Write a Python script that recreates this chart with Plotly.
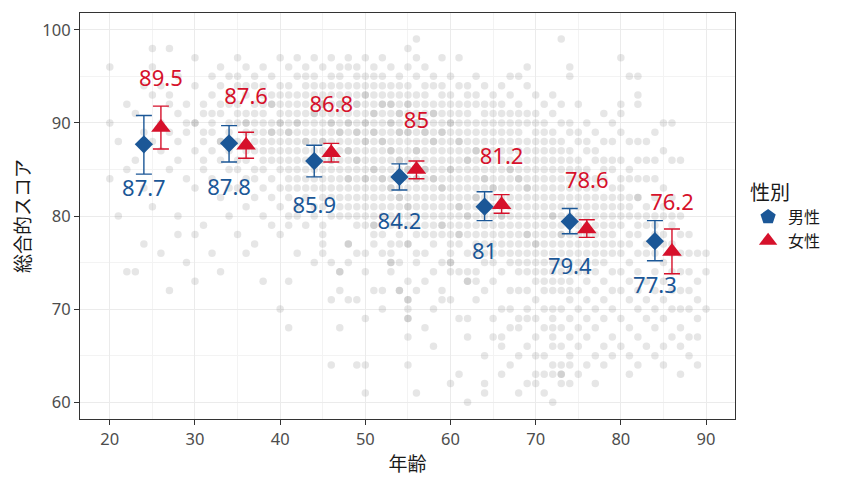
import plotly.graph_objects as go

# ---- summary data (decade groups) ----
group_mid = [25, 35, 45, 55, 65, 75, 85]
male_mean = [87.7, 87.8, 85.9, 84.2, 81.0, 79.4, 77.3]
male_lo = [84.5, 85.8, 84.2, 82.8, 79.5, 78.1, 75.2]
male_hi = [90.8, 89.7, 87.6, 85.6, 82.6, 80.8, 79.5]
female_mean = [89.5, 87.6, 86.8, 85.0, 81.2, 78.6, 76.2]
female_lo = [87.2, 86.2, 85.8, 84.0, 80.3, 77.7, 73.8]
female_hi = [91.8, 89.0, 87.8, 85.9, 82.3, 79.6, 78.6]
male_label = ["87.7", "87.8", "85.9", "84.2", "81", "79.4", "77.3"]
female_label = ["89.5", "87.6", "86.8", "85", "81.2", "78.6", "76.2"]

# ---- individual observations (age -> scores), read approximately ----
obs_ages = list(range(20, 91))
obs_scores = [
    [96, 90, 84],
    [88, 80],
    [92, 85, 74],
    [91, 86, 74],
    [94, 89, 83, 77],
    [98, 96, 93, 88, 81],
    [94, 90, 87, 76],
    [98, 93, 92, 89, 85, 72],
    [95, 91, 88, 86, 80, 78],
    [92, 90, 89, 84, 75],
    [97, 94, 90, 90, 87, 83, 78, 73],
    [92, 91, 89, 88, 86, 85, 79],
    [95, 93, 91, 90, 89, 87, 84, 76],
    [96, 94, 92, 91, 88, 88, 86, 82, 74],
    [95, 93, 92, 90, 89, 87, 85, 83, 80],
    [97, 95, 94, 92, 91, 90, 88, 86, 85, 83, 78],
    [96, 94, 93, 91, 90, 90, 89, 87, 86, 84, 81, 76],
    [95, 94, 92, 91, 90, 89, 88, 87, 85, 84, 82, 77],
    [96, 94, 93, 92, 91, 90, 89, 88, 87, 86, 85, 83, 80, 73],
    [95, 93, 92, 92, 90, 89, 89, 88, 87, 86, 84, 82, 79],
    [97, 94, 93, 92, 91, 90, 90, 89, 88, 87, 86, 85, 83, 81, 78, 70],
    [96, 94, 93, 92, 91, 90, 89, 89, 88, 87, 86, 85, 84, 83, 82, 80, 79, 73, 68],
    [97, 95, 93, 92, 91, 90, 90, 89, 88, 87, 86, 85, 84, 83, 81, 80, 76],
    [96, 95, 94, 93, 92, 91, 90, 89, 88, 88, 87, 86, 85, 84, 83, 82, 79],
    [97, 95, 94, 93, 92, 91, 91, 90, 89, 88, 87, 86, 85, 84, 83, 81, 80, 75],
    [96, 94, 93, 92, 92, 91, 90, 89, 88, 88, 87, 86, 85, 84, 83, 82, 81, 79, 78, 77, 76],
    [97, 95, 94, 93, 92, 91, 90, 90, 89, 88, 87, 86, 86, 85, 84, 83, 82, 80, 75, 71, 64],
    [96, 95, 94, 93, 92, 92, 91, 90, 89, 89, 88, 87, 86, 85, 84, 83, 82, 81, 80, 74, 74, 72, 68],
    [97, 96, 94, 93, 92, 91, 90, 90, 89, 88, 87, 87, 86, 85, 84, 84, 83, 82, 81, 80, 77, 77, 75, 71],
    [96, 95, 94, 93, 92, 92, 91, 90, 89, 89, 88, 87, 86, 86, 85, 84, 83, 82, 81, 80, 79, 76, 71, 64],
    [97, 95, 94, 93, 93, 92, 91, 90, 90, 89, 88, 88, 87, 86, 85, 84, 84, 83, 82, 81, 80, 79, 76, 74, 69, 64, 61],
    [96, 95, 94, 93, 92, 91, 91, 90, 89, 89, 88, 87, 86, 85, 85, 84, 83, 82, 81, 80, 79, 79, 78, 77, 72],
    [97, 95, 94, 93, 92, 92, 91, 90, 89, 88, 88, 87, 86, 85, 84, 84, 83, 82, 81, 80, 78, 76, 72, 70],
    [96, 94, 93, 92, 92, 91, 90, 90, 89, 88, 87, 87, 86, 85, 84, 83, 83, 82, 81, 80, 79, 77, 76, 75, 75, 74],
    [95, 94, 93, 92, 91, 91, 90, 89, 89, 88, 87, 86, 86, 85, 84, 83, 82, 82, 81, 80, 79, 78, 77, 75, 72, 72],
    [98, 96, 94, 93, 92, 92, 91, 90, 89, 89, 88, 87, 86, 85, 85, 84, 83, 82, 81, 81, 80, 79, 77, 77, 73, 71, 71, 70, 69, 69, 67, 64],
    [99, 97, 95, 93, 92, 91, 90, 90, 89, 88, 87, 87, 86, 85, 84, 84, 83, 82, 81, 80, 79, 78, 76, 75, 72, 61],
    [96, 94, 93, 92, 91, 90, 89, 89, 88, 87, 86, 85, 85, 84, 83, 82, 81, 80, 79, 78, 76, 73, 68],
    [95, 94, 92, 91, 91, 90, 89, 88, 88, 87, 86, 85, 84, 84, 83, 82, 81, 80, 79, 78, 77, 74, 70, 66],
    [97, 94, 93, 92, 91, 90, 89, 89, 88, 87, 86, 85, 84, 83, 83, 82, 81, 80, 79, 79, 78, 75, 72, 71],
    [95, 93, 92, 91, 90, 90, 89, 88, 87, 86, 85, 85, 84, 83, 82, 81, 80, 79, 78, 77, 76, 75, 75, 74, 71, 62],
    [97, 94, 92, 91, 90, 89, 88, 88, 87, 86, 85, 84, 83, 82, 81, 81, 80, 79, 78, 78, 77, 74, 69, 63],
    [94, 93, 92, 91, 90, 89, 88, 87, 86, 86, 85, 84, 83, 82, 81, 80, 80, 79, 78, 76, 74, 73, 73, 69, 67, 60],
    [95, 93, 92, 90, 89, 88, 87, 87, 86, 85, 84, 83, 82, 82, 81, 80, 79, 78, 77, 76, 74, 73, 71],
    [94, 92, 91, 90, 89, 88, 87, 86, 85, 84, 84, 83, 82, 81, 80, 79, 78, 77, 76, 75, 72, 65, 62, 61],
    [93, 92, 91, 90, 89, 88, 87, 86, 85, 84, 83, 83, 82, 81, 80, 79, 78, 77, 76, 75, 73, 69, 67],
    [94, 92, 91, 90, 89, 88, 87, 86, 85, 84, 83, 82, 81, 80, 80, 79, 78, 77, 76, 74, 70, 67, 66, 63],
    [95, 93, 91, 90, 89, 88, 87, 86, 85, 85, 84, 83, 82, 81, 80, 79, 78, 77, 76, 75, 72, 70, 68, 64],
    [95, 92, 91, 90, 89, 88, 87, 86, 85, 84, 84, 83, 82, 81, 80, 79, 78, 77, 76, 75, 74, 72, 69, 68, 65, 61],
    [96, 94, 91, 90, 88, 87, 86, 85, 84, 83, 83, 82, 81, 80, 79, 78, 78, 77, 76, 75, 74, 72, 70, 69, 66, 62],
    [93, 91, 90, 89, 88, 87, 86, 85, 84, 83, 82, 81, 80, 79, 78, 77, 77, 76, 75, 74, 73, 71, 69, 67, 65, 63, 62],
    [92, 90, 89, 88, 87, 86, 85, 84, 83, 82, 81, 80, 79, 78, 77, 76, 75, 74, 73, 72, 70, 68, 65, 63, 61],
    [93, 91, 89, 88, 87, 86, 85, 84, 83, 82, 81, 80, 80, 79, 78, 77, 76, 75, 74, 73, 72, 70, 69, 68, 67, 66, 64, 63, 60],
    [99, 92, 90, 88, 87, 86, 85, 84, 83, 82, 81, 80, 79, 78, 78, 77, 76, 75, 74, 73, 72, 70, 68, 66, 64, 63, 63, 62],
    [96, 95, 90, 89, 87, 86, 85, 84, 83, 82, 81, 80, 79, 79, 78, 77, 76, 75, 74, 73, 72, 71, 69, 67, 65, 64, 62],
    [92, 89, 88, 86, 85, 84, 83, 82, 81, 80, 79, 78, 77, 76, 75, 74, 72, 70, 68, 66, 63],
    [90, 88, 87, 85, 84, 83, 82, 81, 80, 79, 78, 77, 76, 75, 74, 73, 71, 69, 67, 64],
    [89, 87, 86, 84, 83, 82, 81, 80, 79, 78, 77, 76, 75, 74, 72, 70, 68, 65, 62],
    [91, 88, 86, 85, 84, 82, 81, 80, 79, 78, 77, 76, 75, 73, 71, 69, 66, 64],
    [90, 88, 86, 85, 83, 82, 81, 80, 79, 78, 77, 76, 74, 72, 70, 67, 65],
    [97, 92, 91, 89, 86, 84, 83, 82, 81, 80, 79, 77, 76, 74, 72, 69, 66],
    [95, 88, 85, 84, 82, 81, 80, 78, 77, 75, 73, 71, 68, 65, 63],
    [95, 93, 92, 88, 86, 84, 82, 82, 80, 79, 78, 76, 74, 72, 70, 67, 64],
    [88, 86, 84, 81, 80, 79, 77, 76, 73, 71, 69, 66],
    [89, 86, 84, 82, 80, 79, 78, 76, 74, 72, 70, 68, 65],
    [90, 87, 83, 81, 80, 78, 77, 75, 73, 71, 69, 66, 64],
    [90, 86, 82, 80, 79, 77, 76, 74, 72, 70, 67],
    [86, 80, 78, 76, 74, 72, 70, 68, 66, 63],
    [78, 76, 74, 72, 70, 67, 65],
    [76, 73, 71, 69, 67, 64],
    [76, 74, 70],
]

BLUE = "#1b5797"
RED = "#d6112b"
FONT = "Noto Sans, Noto Sans CJK JP"
CJK = "Noto Sans CJK JP"

px_x, px_y = [], []
for a, lst in zip(obs_ages, obs_scores):
    for s in lst:
        px_x.append(a)
        px_y.append(s)

fig = go.Figure()
fig.add_trace(go.Scatter(
    x=px_x, y=px_y, mode="markers", showlegend=False, hoverinfo="skip",
    marker=dict(size=7.5, color="rgba(100,100,100,0.16)", line=dict(width=0)),
))

male_x = [g - 1 for g in group_mid]
female_x = [g + 1 for g in group_mid]

def err(mean, lo, hi):
    return dict(type="data", symmetric=False,
                array=[h - m for m, h in zip(mean, hi)],
                arrayminus=[m - l for m, l in zip(mean, lo)],
                thickness=1.4, width=8)

e = err(male_mean, male_lo, male_hi); e["color"] = BLUE
fig.add_trace(go.Scatter(x=male_x, y=male_mean, mode="markers", showlegend=False,
                         error_y=e,
                         marker=dict(symbol="diamond", size=14, color=BLUE)))
e = err(female_mean, female_lo, female_hi); e["color"] = RED
fig.add_trace(go.Scatter(x=female_x, y=female_mean, mode="markers", showlegend=False,
                         error_y=e,
                         marker=dict(symbol="triangle-up", size=17, color=RED)))

fig.add_trace(go.Scatter(x=male_x, y=[m - 5 for m in male_mean], mode="text",
                         text=male_label, showlegend=False,
                         textfont=dict(family=FONT, size=22, color=BLUE)))
fig.add_trace(go.Scatter(x=female_x, y=[m + 5 for m in female_mean], mode="text",
                         text=female_label, showlegend=False,
                         textfont=dict(family=FONT, size=22, color=RED)))

# legend entries
fig.add_trace(go.Scatter(x=[None], y=[None], mode="markers", name="男性",
                         marker=dict(symbol="pentagon", size=16, color=BLUE)))
fig.add_trace(go.Scatter(x=[None], y=[None], mode="markers", name="女性",
                         marker=dict(symbol="triangle-up", size=18, color=RED)))

axis_common = dict(
    showline=True, mirror=True, linecolor="#333333", linewidth=1,
    gridcolor="#ebebeb", gridwidth=1.2, zeroline=False, automargin=False,
    ticks="outside", ticklen=5, tickcolor="#333333",
    tickfont=dict(family=FONT, size=16.5, color="#4d4d4d"),
)

# page body has an 8px default margin; compensate so the panel lands where the reference has it
fig.update_layout(
    width=858, height=483,
    paper_bgcolor="white", plot_bgcolor="white",
    margin=dict(l=72, r=131, t=5, b=72),
    font=dict(family=FONT, color="#1a1a1a"),
    xaxis=dict(range=[16.5, 93.4], tickvals=[20, 30, 40, 50, 60, 70, 80, 90],
               title=dict(text="年齢", font=dict(family=CJK, size=19, color="#1a1a1a"), standoff=8),
               **axis_common),
    yaxis=dict(range=[58.2, 101.8], tickvals=[60, 70, 80, 90, 100],
               title=dict(text="総合的スコア", font=dict(family=CJK, size=19, color="#1a1a1a"), standoff=10),
               **axis_common),
    legend=dict(title=dict(text="性別", font=dict(family=CJK, size=20)),
                font=dict(family=CJK, size=16), x=1.02, y=0.5, yanchor="middle",
                xanchor="left", bgcolor="rgba(0,0,0,0)"),
)
fig.update_xaxes(minor=dict(tickvals=[25, 35, 45, 55, 65, 75, 85], showgrid=True,
                            gridcolor="#f3f3f3", gridwidth=0.7, ticks=""))
fig.update_yaxes(minor=dict(tickvals=[65, 75, 85, 95], showgrid=True,
                            gridcolor="#f3f3f3", gridwidth=0.7, ticks=""))

fig.write_html("out.html")
